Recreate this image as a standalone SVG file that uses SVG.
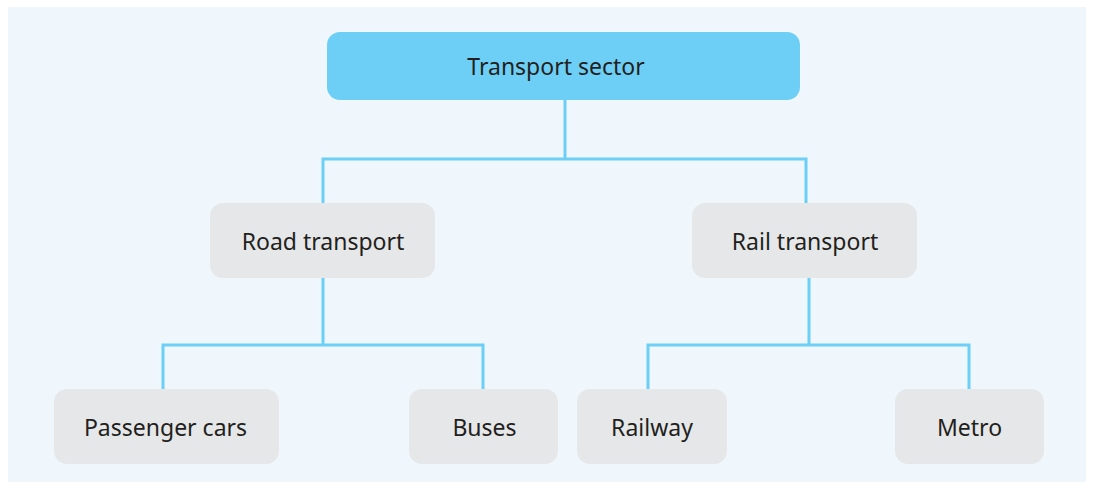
<svg xmlns="http://www.w3.org/2000/svg" width="1094" height="490" viewBox="0 0 1094 490">
<style>
.bg{fill:#EFF7FD}
.root{fill:#6DCFF6}
.box{fill:#E6E7E8}
.lbl{font-family:"Noto Sans","Open Sans",sans-serif;font-size:23px;fill:#231F20;text-anchor:middle;dominant-baseline:central}
.edge{fill:none;stroke:#6DCFF6;stroke-width:3}
</style>
<rect width="1094" height="490" fill="#FFFFFF"/>
<rect class="bg" x="8" y="7" width="1078" height="475"/>
<g id="connectors">
<path class="edge" d="M565 100 V159 M323 203 V159 H806 V203"/>
<path class="edge" d="M323 278 V345 M163 389 V345 H483 V389"/>
<path class="edge" d="M809 278 V345 M648 389 V345 H969 V389"/>
</g>
<g id="n-root"><rect class="root" x="327" y="32" width="473" height="68" rx="13"/><text class="lbl" x="556" y="66">Transport sector</text></g>
<g id="n-road"><rect class="box" x="210" y="203" width="225" height="75" rx="13"/><text class="lbl" x="323" y="241">Road transport</text></g>
<g id="n-rail"><rect class="box" x="692" y="203" width="225" height="75" rx="13"/><text class="lbl" x="805" y="241">Rail transport</text></g>
<g id="n-cars"><rect class="box" x="54" y="389" width="225" height="75" rx="13"/><text class="lbl" x="165.5" y="427">Passenger cars</text></g>
<g id="n-buses"><rect class="box" x="409" y="389" width="149" height="75" rx="13"/><text class="lbl" x="484.5" y="427">Buses</text></g>
<g id="n-railway"><rect class="box" x="577" y="389" width="150" height="75" rx="13"/><text class="lbl" x="652" y="427">Railway</text></g>
<g id="n-metro"><rect class="box" x="895" y="389" width="149" height="75" rx="13"/><text class="lbl" x="969.5" y="427">Metro</text></g>
</svg>
